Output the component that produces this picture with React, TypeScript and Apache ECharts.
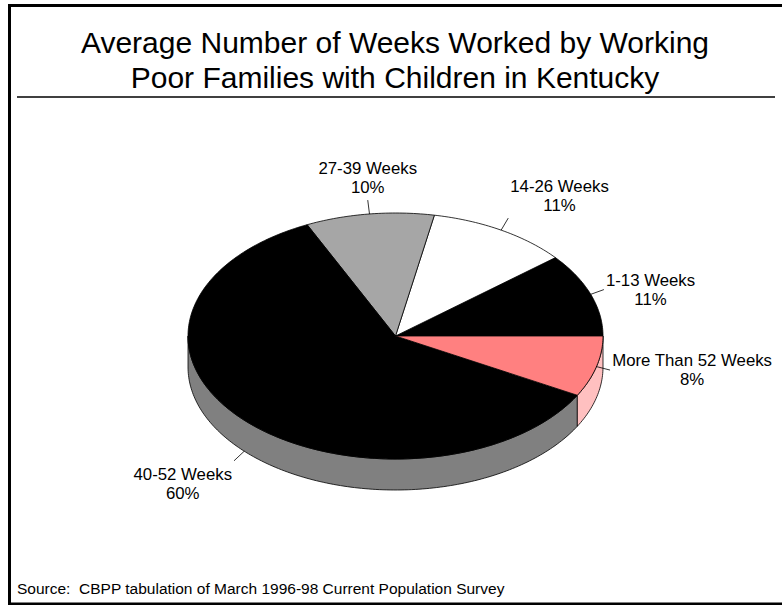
import React, { useEffect, useRef } from "react";
import * as echarts from "echarts";

const categories = ["1-13 Weeks", "14-26 Weeks", "27-39 Weeks", "40-52 Weeks", "More Than 52 Weeks"];
const shares = [11, 11, 10, 60, 8];
const topColors = ["#000000", "#FFFFFF", "#A6A6A6", "#000000", "#FF8080"];
const sideColors = ["#000000", "#C0C0C0", "#808080", "#808080", "#FFC0C0"];
const titleLines = ["Average Number of Weeks Worked by Working", "Poor Families with Children in Kentucky"];
const sourceNote = "Source:  CBPP tabulation of March 1996-98 Current Population Survey";

const W = 782;
const H = 605;
const CX = 395.5;
const CY = 336;
const RX = 207.5;
const RY = 123;
const DEPTH = 31;
const LEADER = 14;
const FONT = '"Liberation Sans", Arial, Helvetica, sans-serif';
const LABEL_SIZE = 16.8;

let measureCtx: CanvasRenderingContext2D | null = null;
function measure(text: string, size: number): number {
  if (!measureCtx) {
    const c = document.createElement("canvas");
    measureCtx = c.getContext("2d");
  }
  if (!measureCtx) return text.length * size * 0.55;
  measureCtx.font = `${size}px ${FONT}`;
  return measureCtx.measureText(text).width;
}

export default function App() {
  const ref = useRef<HTMLDivElement>(null);
  useEffect(() => {
    if (!ref.current) return;
    const chart = echarts.init(ref.current, null, { renderer: "svg" });
    const total = shares.reduce((a, b) => a + b, 0);
    const starts: number[] = [];
    let acc = 0;
    shares.forEach((v) => {
      starts.push(acc);
      acc += v;
    });
    const arc = (a: number, b: number, dy: number) => {
      const n = Math.max(2, Math.ceil((b - a) / (Math.PI / 180)));
      const pts: number[][] = [];
      for (let k = 0; k <= n; k++) {
        const t = a + ((b - a) * k) / n;
        pts.push([CX + RX * Math.cos(t), CY - RY * Math.sin(t) + dy]);
      }
      return pts;
    };

    const option: any = {
      animation: false,
      backgroundColor: "#ffffff",
      series: [
        {
          type: "custom",
          coordinateSystem: "none",
          silent: true,
          data: shares.map((v, i) => ({ name: categories[i], value: v })),
          renderItem: (params: any, api: any) => {
            const i = params.dataIndex;
            const v = api.value(0);
            const a1 = (starts[i] / total) * Math.PI * 2;
            const a2 = ((starts[i] + v) / total) * Math.PI * 2;
            const children: any[] = [];
            const s = Math.max(a1, Math.PI);
            const e = Math.min(a2, Math.PI * 2);
            if (e > s) {
              const upper = arc(s, e, 0);
              const lower = arc(s, e, DEPTH).reverse();
              children.push({
                type: "polygon",
                shape: { points: upper.concat(lower) },
                style: { fill: sideColors[i], stroke: "#000", lineWidth: 0.8 },
              });
            }
            children.push({
              type: "polygon",
              shape: { points: [[CX, CY]].concat(arc(a1, a2, 0)) },
              style: { fill: topColors[i], stroke: "#000", lineWidth: 0.8 },
            });
            const m = (a1 + a2) / 2;
            const c = Math.cos(m);
            const sn = Math.sin(m);
            const p0 = [CX + RX * c, CY - RY * sn + (sn < -0.5 ? DEPTH : 0)];
            const p1 = [p0[0] + LEADER * c, p0[1] - LEADER * sn];
            children.push({
              type: "line",
              shape: { x1: p0[0], y1: p0[1], x2: p1[0], y2: p1[1] },
              style: { stroke: "#000", lineWidth: 0.8 },
            });
            const pct = `${v}%`;
            const w = Math.max(measure(categories[i], LABEL_SIZE), measure(pct, LABEL_SIZE));
            const hAl = Math.abs(c) < 0.3 ? "center" : c > 0 ? "left" : "right";
            const vAl = sn > 0.6 ? "bottom" : sn < -0.6 ? "top" : "middle";
            const gap = 2;
            const tx = hAl === "center" ? p1[0] : hAl === "left" ? p1[0] + gap + w / 2 : p1[0] - gap - w / 2;
            const ty = vAl === "bottom" ? p1[1] - 3 : vAl === "top" ? p1[1] + 4 : p1[1];
            children.push({
              type: "text",
              x: tx,
              y: ty,
              style: {
                text: `${categories[i]}\n${pct}`,
                fill: "#000",
                fontSize: LABEL_SIZE,
                fontFamily: FONT,
                align: "center",
                verticalAlign: vAl,
                lineHeight: 19,
              },
            });
            return { type: "group", children };
          },
        },
      ],
      graphic: [
        {
          type: "rect",
          silent: true,
          shape: { x: 9.5, y: 5.5, width: 800, height: 598.5 },
          style: { fill: "none", stroke: "#000", lineWidth: 3 },
        },
        {
          type: "line",
          silent: true,
          shape: { x1: 17, y1: 97, x2: 775, y2: 97 },
          style: { stroke: "#000", lineWidth: 1.5 },
        },
        {
          type: "text",
          x: 395,
          y: 42,
          style: { text: titleLines[0], fill: "#000", fontSize: 30, fontFamily: FONT, align: "center", verticalAlign: "middle" },
        },
        {
          type: "text",
          x: 395,
          y: 77,
          style: { text: titleLines[1], fill: "#000", fontSize: 30, fontFamily: FONT, align: "center", verticalAlign: "middle" },
        },
        {
          type: "text",
          x: 17,
          y: 588,
          style: { text: sourceNote, fill: "#000", fontSize: 15.5, fontFamily: FONT, align: "left", verticalAlign: "middle" },
        },
      ],
    };
    chart.setOption(option);
    return () => {
      chart.dispose();
    };
  }, []);
  return (
    <div
      ref={ref}
      style={{ position: "absolute", left: 0, top: 0, width: W, height: H }}
    />
  );
}
